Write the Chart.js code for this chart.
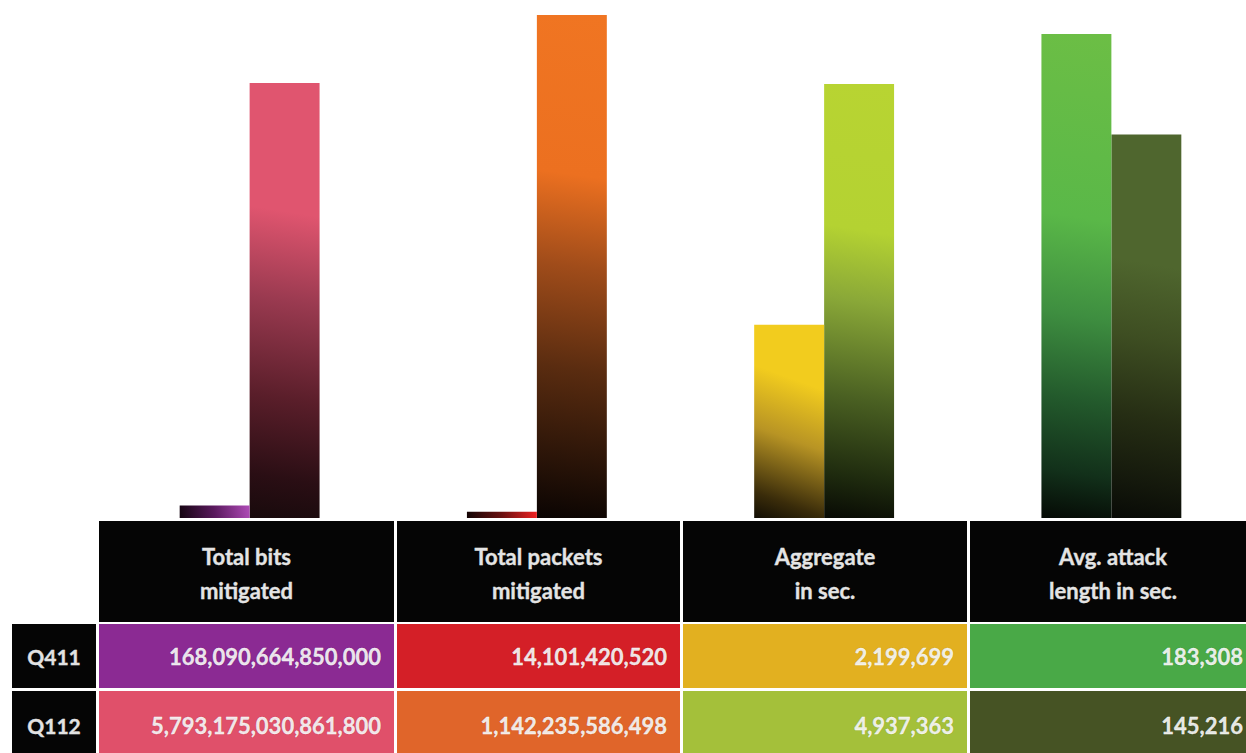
<!DOCTYPE html>
<html>
<head>
<meta charset="utf-8">
<script src="https://cdn.jsdelivr.net/npm/chart.js@4/dist/chart.umd.min.js"></script>
<style>
  html, body { margin: 0; padding: 0; background: #ffffff; width: 1246px; height: 753px; overflow: hidden; }
  #wrap { position: relative; width: 1246px; height: 753px; overflow: hidden; }
  #c { position: absolute; left: 0; top: 0; }
  .cell { position: absolute; box-sizing: border-box; font-family: Lato, "Open Sans", sans-serif; font-weight: 700; -webkit-text-stroke: 0.35px currentColor; }
  .head { background: #050505; color: #e4e4e4; font-size: 22px; line-height: 34px; text-align: center; display: flex; align-items: center; justify-content: center; padding-top: 4px; }
  .lab { background: #050505; color: #e2e2e2; font-size: 21px; display: flex; align-items: center; justify-content: center; }
  .val { color: rgba(255,255,255,0.9); font-size: 22px; display: flex; align-items: center; justify-content: flex-end; padding-right: 13px; text-shadow: 0 0 1px rgba(0,0,0,0.35); }
</style>
</head>
<body>
<div id="wrap">
  <canvas id="c" width="1256" height="518"></canvas>
  <div id="table"></div>
</div>
<script>
// ---- data ----
const categories = ["Total bits mitigated", "Total packets mitigated", "Aggregate in sec.", "Avg. attack length in sec."];
const headerLines = [["Total bits", "mitigated"], ["Total packets", "mitigated"], ["Aggregate", "in sec."], ["Avg. attack", "length in sec."]];
const seriesNames = ["Q411", "Q112"];
const q411 = [168090664850000, 14101420520, 2199699, 183308];
const q112 = [5793175030861800, 1142235586498, 4937363, 145216];

// ---- styles: gradient stops [offset from bottom-left (0) to top-right (1), colour] ----
const barStops = [
  [
    [[0, "#140410"], [0.5, "#5a1a5e"], [1, "#b04cb8"]],
    [[0, "#180a0c"], [0.1, "#2a0e14"], [0.28, "#5a1e2a"], [0.5, "#9a3a50"], [0.7, "#e0556f"], [1, "#e0556f"]]
  ],
  [
    [[0, "#120404"], [0.5, "#6a1010"], [1, "#ee2222"]],
    [[0, "#0a0402"], [0.12, "#2a1408"], [0.3, "#5a2c10"], [0.5, "#a04c1a"], [0.68, "#ec7020"], [1, "#f07522"]]
  ],
  [
    [[0, "#120e04"], [0.12, "#3a2c0a"], [0.42, "#b89424"], [0.7, "#f2cc1e"], [1, "#f2cc1e"]],
    [[0, "#080a04"], [0.1, "#1e2a0e"], [0.28, "#4a6022"], [0.5, "#8aa838"], [0.66, "#b4d232"], [1, "#b8d432"]]
  ],
  [
    [[0, "#050a05"], [0.1, "#12301a"], [0.25, "#235a2c"], [0.42, "#3e8e40"], [0.62, "#5ab848"], [1, "#6cbe45"]],
    [[0, "#080a06"], [0.1, "#14180c"], [0.27, "#262e14"], [0.47, "#3e4e22"], [0.66, "#4f662e"], [1, "#4f662e"]]
  ]
];
const cellColors = [
  ["#8b2a93", "#e0506a"],
  ["#d41f27", "#e0652a"],
  ["#e2b020", "#a4c03a"],
  ["#49a947", "#465324"]
];
const axisMax = [6.8985e15, 1.1763e12, 5.893e6, 196185];
const catPct = 0.487;

function gradientFor(ctx, catIdx, sIdx) {
  const chart = ctx.chart;
  const area = chart.chartArea;
  const stops = barStops[catIdx][sIdx];
  const fallback = stops[stops.length - 1][1];
  if (!area || ctx.raw === null || ctx.raw === undefined || ctx.dataIndex !== catIdx) return fallback;
  const xs = chart.scales.x;
  const ys = chart.scales["y" + catIdx];
  if (!xs || !ys) return fallback;
  const cw = area.width / categories.length;
  const bw = cw * catPct / 2;
  const cx = xs.getPixelForValue(catIdx);
  const left = sIdx === 0 ? cx - bw : cx;
  const right = left + bw;
  const top = ys.getPixelForValue(ctx.raw);
  const base = ys.getPixelForValue(0);
  if (![left, right, top, base].every(Number.isFinite)) return fallback;
  const g = chart.ctx.createLinearGradient(left, base, right, top);
  stops.forEach(([o, c]) => g.addColorStop(o, c));
  return g;
}

const datasets = [];
categories.forEach((cat, i) => {
  [q411, q112].forEach((series, s) => {
    datasets.push({
      label: seriesNames[s] + " – " + cat,
      data: categories.map((_, j) => (j === i ? series[i] : null)),
      yAxisID: "y" + i,
      backgroundColor: (ctx) => gradientFor(ctx, i, s),
      borderWidth: 0,
      skipNull: true,
      categoryPercentage: catPct,
      barPercentage: 1.0
    });
  });
});

const scales = {
  x: { display: false, grid: { display: false }, offset: true }
};
axisMax.forEach((m, i) => {
  scales["y" + i] = { display: false, min: 0, max: m, grid: { display: false } };
});

new Chart(document.getElementById("c"), {
  type: "bar",
  data: { labels: categories, datasets: datasets },
  options: {
    responsive: false,
    animation: false,
    layout: { padding: { left: 106, right: 1, top: 0, bottom: 0 } },
    plugins: { legend: { display: false }, tooltip: { enabled: false } },
    scales: scales
  }
});

// ---- table below the chart ----
const colX = [[99, 394], [397, 680], [683, 967], [970, 1256]];
const table = document.getElementById("table");
function addCell(cls, x0, x1, y0, y1, html, bg) {
  const d = document.createElement("div");
  d.className = "cell " + cls;
  d.style.left = x0 + "px";
  d.style.width = (x1 - x0) + "px";
  d.style.top = y0 + "px";
  d.style.height = (y1 - y0) + "px";
  if (bg) d.style.background = bg;
  d.innerHTML = html;
  table.appendChild(d);
}
headerLines.forEach((lines, i) => {
  addCell("head", colX[i][0], colX[i][1], 521, 622, "<div>" + lines.join("<br>") + "</div>");
});
const rowsY = [[624, 688], [691, 760]];
[q411, q112].forEach((series, s) => {
  addCell("lab", 12, 96, rowsY[s][0], rowsY[s][1], seriesNames[s]);
  series.forEach((v, i) => {
    addCell("val", colX[i][0], colX[i][1], rowsY[s][0], rowsY[s][1], v.toLocaleString("en-US"), cellColors[i][s]);
  });
});
</script>
</body>
</html>
